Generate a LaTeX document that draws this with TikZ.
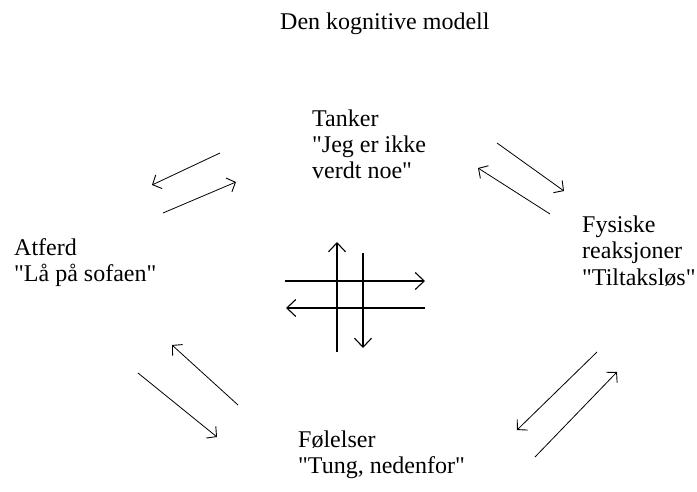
\documentclass[tikz,border=0pt]{standalone}
\usepackage{fontspec}
\setmainfont{Liberation Serif}[Ligatures=TeXOff]
\usetikzlibrary{arrows.meta}
\begin{document}
\begin{tikzpicture}[x=1pt,y=-1pt,
  label text/.style={anchor=base west,inner sep=0pt,align=left,
    font=\fontsize{24}{26.5}\selectfont},
  diag/.style={line width=0.8pt,-{Straight Barb[length=7pt,width=15pt,line width=0.9pt]}},
  cross/.style={line width=1.1pt,-{Straight Barb[length=9pt,width=17pt,line width=1.1pt]}}]
\useasboundingbox (0,0) rectangle (697,492);

% labels (anchored on the baseline of their last line)
\node[label text] (title) at (280,29.5) {Den kognitive modell};
\node[label text] (tanker) at (312,179) {Tanker\\"Jeg er ikke\\verdt noe"};
\node[label text] (fysiske) at (582,285) {Fysiske\\reaksjoner\\"Tiltaksløs"};
\node[label text] (atferd) at (14,281.5) {Atferd\\"Lå på sofaen"};
\node[label text] (folelser) at (298,473.5) {Følelser\\"Tung, nedenfor"};

% arrow end points
\coordinate (tl1a) at (220,153); \coordinate (tl1b) at (152,185);
\coordinate (tl2a) at (163,213); \coordinate (tl2b) at (236,182);
\coordinate (tr1a) at (497,143); \coordinate (tr1b) at (564,191);
\coordinate (tr2a) at (550,214); \coordinate (tr2b) at (478,168);
\coordinate (bl1a) at (238,405); \coordinate (bl1b) at (172,345);
\coordinate (bl2a) at (138,373); \coordinate (bl2b) at (217,437);
\coordinate (br1a) at (597,352); \coordinate (br1b) at (517,430);
\coordinate (br2a) at (535,457); \coordinate (br2b) at (617,372);
\coordinate (upa) at (337,352);  \coordinate (upb) at (337,242);
\coordinate (dna) at (363,253);  \coordinate (dnb) at (363,348);
\coordinate (rta) at (285,281);  \coordinate (rtb) at (425,281);
\coordinate (lfa) at (425,308);  \coordinate (lfb) at (286,308);

% paired arrows between the four parts
\draw[diag] (tl1a) -- (tl1b);
\draw[diag] (tl2a) -- (tl2b);
\draw[diag] (tr1a) -- (tr1b);
\draw[diag] (tr2a) -- (tr2b);
\draw[diag] (bl1a) -- (bl1b);
\draw[diag] (bl2a) -- (bl2b);
\draw[diag] (br1a) -- (br1b);
\draw[diag] (br2a) -- (br2b);

% crossing arrows in the middle
\draw[cross] (upa) -- (upb);
\draw[cross] (dna) -- (dnb);
\draw[cross] (rta) -- (rtb);
\draw[cross] (lfa) -- (lfb);
\end{tikzpicture}
\end{document}
